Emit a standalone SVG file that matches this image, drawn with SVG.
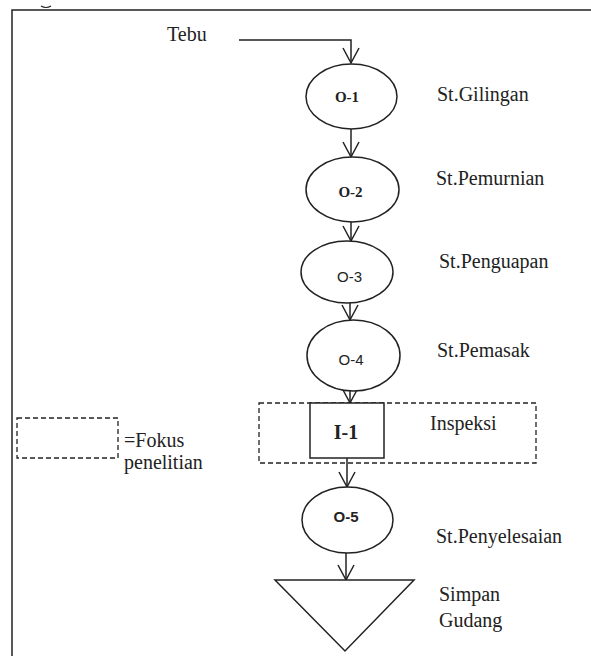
<svg xmlns="http://www.w3.org/2000/svg" width="591" height="656" viewBox="0 0 591 656">
<style>
.ln{fill:none;stroke:#222;stroke-width:1.5}
.nd{fill:#fff;stroke:#222;stroke-width:1.5}
.ds{fill:none;stroke:#222;stroke-width:1.3;stroke-dasharray:5 3}
.lb{font-size:20px;fill:#222}
.os{font-size:15px;font-weight:bold;fill:#222;text-anchor:middle}
.oa{font-size:15px;fill:#222;text-anchor:middle}
</style>
<defs>
<marker id="ah" markerUnits="userSpaceOnUse" markerWidth="20" markerHeight="20" viewBox="-16 -10 20 20" refX="0" refY="0" orient="auto">
<path d="M-15,-8 L0,0 L-15,8" fill="none" stroke="#222" stroke-width="1.5"/>
</marker>
</defs>
<rect width="591" height="656" fill="#fff"/>
<g id="frame">
<path class="ln" d="M12,656 V10 H591"/>
<path d="M41,6 Q46,9 51,6" fill="none" stroke="#222" stroke-width="1.2"/>
</g>
<g id="connectors">
<path class="ln" d="M239,40 H351 V63" marker-end="url(#ah)"/>
<path class="ln" d="M351,129 V157" marker-end="url(#ah)"/>
<path class="ln" d="M351,222 V241" marker-end="url(#ah)"/>
<path class="ln" d="M350,303 V320" marker-end="url(#ah)"/>
<path class="ln" d="M350,391 V403" marker-end="url(#ah)"/>
<path class="ln" d="M347,458 V487" marker-end="url(#ah)"/>
<path class="ln" d="M346,553 V580" marker-end="url(#ah)"/>
</g>
<g font-family="Liberation Serif, DejaVu Serif, serif">
<g id="tebu"><text class="lb" x="167" y="41">Tebu</text></g>
<g id="o1">
<ellipse class="nd" cx="351.5" cy="96.5" rx="45.5" ry="32.5"/>
<text class="os" x="347" y="102">O-1</text>
<text class="lb" x="437" y="101">St.Gilingan</text>
</g>
<g id="o2">
<ellipse class="nd" cx="352.5" cy="189.5" rx="46.5" ry="32.5"/>
<text class="os" x="350.5" y="197">O-2</text>
<text class="lb" x="436" y="185">St.Pemurnian</text>
</g>
<g id="o3">
<ellipse class="nd" cx="347" cy="272" rx="46" ry="31"/>
<text class="oa" x="349.5" y="282" font-family="Liberation Sans, Arial, sans-serif">O-3</text>
<text class="lb" x="439" y="268">St.Penguapan</text>
</g>
<g id="o4">
<ellipse class="nd" cx="353.5" cy="355.5" rx="46.5" ry="35.5"/>
<text class="oa" x="351" y="365" font-family="Liberation Sans, Arial, sans-serif">O-4</text>
<text class="lb" x="437" y="357">St.Pemasak</text>
</g>
<g id="focus">
<rect class="ds" x="259" y="403" width="277" height="60"/>
<text class="lb" x="430" y="430">Inspeksi</text>
</g>
<g id="i1">
<rect class="nd" x="310" y="403" width="74" height="55"/>
<text class="lb" x="346" y="439" text-anchor="middle" font-weight="bold">I-1</text>
</g>
<g id="o5">
<ellipse class="nd" cx="347.5" cy="520" rx="45.5" ry="33"/>
<text class="oa" x="346" y="522" font-weight="bold" font-family="Liberation Sans, Arial, sans-serif">O-5</text>
<text class="lb" x="436" y="543">St.Penyelesaian</text>
</g>
<g id="storage">
<path class="nd" d="M275,580 H414 L345,651 Z"/>
<text class="lb" x="439" y="601">Simpan</text>
<text class="lb" x="439" y="627">Gudang</text>
</g>
<g id="legend">
<rect class="ds" x="17" y="418" width="101" height="40"/>
<text class="lb" x="124" y="447">=Fokus</text>
<text class="lb" x="124" y="469">penelitian</text>
</g>
</g>
</svg>
